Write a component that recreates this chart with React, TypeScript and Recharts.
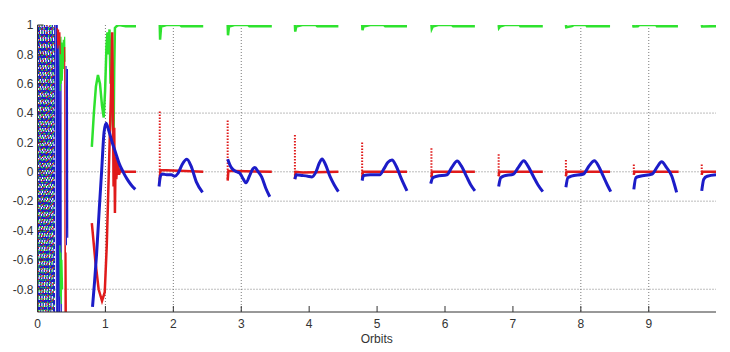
import { CartesianGrid, Line, LineChart, XAxis, YAxis } from 'recharts';

type Pt = [number, number];

const xTicks = [0, 1, 2, 3, 4, 5, 6, 7, 8, 9];
const yTicks = [1, 0.8, 0.6, 0.4, 0.2, 0, -0.2, -0.4, -0.6, -0.8];
const gridX = [1, 2, 3, 8, 9];
const gridY = [0.4, 0, -0.2, -0.8];

// start of run: dense scribble of all three components
const blueNoise: Pt[] = [
    [0, 1], [0.0075, -0.955], [0.015, 1], [0.0225, -0.94], [0.03, 0.99], [0.0375, -0.955], [0.045, 1],
    [0.0525, -0.93], [0.06, 0.98], [0.0675, -0.955], [0.075, 1], [0.0825, -0.95], [0.09, 0.97],
    [0.0975, -0.955], [0.105, 1], [0.1125, -0.94], [0.12, 0.99], [0.1275, -0.955], [0.135, 1],
    [0.1425, -0.92], [0.15, 0.99], [0.1575, -0.955], [0.165, 1], [0.1725, -0.95], [0.18, 0.98],
    [0.1875, -0.955], [0.195, 1], [0.2025, -0.94], [0.21, 0.99], [0.2175, -0.955], [0.225, 1],
    [0.2325, -0.95], [0.24, 0.97], [0.2475, -0.955], [0.255, 1],
];
const greenSpeckle: Pt[] = [
    [0.004, 1], [0.02, -0.955], [0.036, 1], [0.052, -0.955], [0.068, 1], [0.084, -0.955], [0.1, 1],
    [0.116, -0.955], [0.132, 1], [0.148, -0.955], [0.164, 1], [0.18, -0.955], [0.196, 1], [0.212, -0.955],
    [0.228, 1], [0.244, -0.955],
];
const redSpeckle: Pt[] = [
    [0.012, -0.955], [0.03, 1], [0.048, -0.955], [0.066, 1], [0.084, -0.955], [0.102, 1], [0.12, -0.955],
    [0.138, 1], [0.156, -0.955], [0.174, 1], [0.192, -0.955], [0.21, 1], [0.228, -0.955], [0.246, 1],
];
const whiteSpeckle: Pt[] = [
    [0.008, 1], [0.027, -0.955], [0.046, 1], [0.065, -0.955], [0.084, 1], [0.103, -0.955], [0.122, 1],
    [0.141, -0.955], [0.16, 1], [0.179, -0.955], [0.198, 1], [0.217, -0.955], [0.236, 1], [0.25, -0.955],
];
const blueTail: Pt[][] = [
    [[0.28, 1], [0.283, -0.955], [0.29, 1], [0.295, -0.955], [0.3, 0.95], [0.305, -0.955], [0.32, 0.9], [0.325, -0.955], [0.345, 0.7], [0.35, -0.955]],
    [[0.42, 0.72], [0.425, -0.5], [0.44, 0.7], [0.445, -0.45]],
];
const greenTail: Pt[][] = [
    [[0.33, 0.9], [0.335, 0.55], [0.345, 0.92], [0.35, 0.6], [0.36, 0.88], [0.365, 0.62], [0.38, 0.9], [0.385, 0.7], [0.4, 0.92], [0.405, 0.75]],
    [[0.33, -0.5], [0.335, -0.85], [0.345, -0.55], [0.35, -0.9], [0.36, -0.6], [0.37, -0.8]],
];
const redTail: Pt[][] = [
    [[0.29, 0.98], [0.3, 0.84], [0.31, 0.97], [0.32, 0.86], [0.33, 0.95], [0.335, 0.8]],
    [[0.4, 0.85], [0.405, -0.955], [0.41, -0.5], [0.415, -0.955], [0.42, -0.55], [0.425, -0.955]],
];

// one segment per orbit window
const greenOrbits: Pt[][] = [
    [[0.8, 0.17], [0.83, 0.4], [0.86, 0.58], [0.89, 0.66], [0.92, 0.6], [0.95, 0.45], [0.975, 0.37], [0.995, 0.55], [1.015, 0.85], [1.03, 0.95], [1.045, 0.8], [1.06, 0.97], [1.075, 0.6], [1.09, 0.9], [1.105, 0.35], [1.12, 0.24], [1.13, 0.7], [1.14, 0.98], [1.16, 0.99], [1.2, 1], [1.3, 0.992], [1.45, 0.992]],
    [[1.8, 1], [1.805, 0.9], [1.82, 0.99], [1.9, 1], [2.1, 1], [2.12, 0.992], [2.44, 0.992]],
    [[2.8, 1], [2.805, 0.93], [2.82, 0.99], [2.9, 1], [3.1, 1], [3.12, 0.992], [3.45, 0.992]],
    [[3.79, 1], [3.795, 0.955], [3.81, 0.99], [3.9, 1], [4.1, 1], [4.12, 0.992], [4.43, 0.992]],
    [[4.78, 1], [4.785, 0.965], [4.8, 0.99], [4.9, 1], [5.1, 1], [5.12, 0.992], [5.44, 0.992]],
    [[5.8, 1], [5.805, 0.975], [5.82, 0.99], [5.9, 1], [6.1, 1], [6.12, 0.992], [6.44, 0.992]],
    [[6.79, 1], [6.795, 0.98], [6.81, 0.99], [6.88, 1], [7.1, 1], [7.11, 0.992], [7.44, 0.992]],
    [[7.78, 1], [7.785, 0.985], [7.87, 0.992], [7.9, 1], [8.08, 1], [8.09, 0.992], [8.43, 0.992]],
    [[8.77, 1], [8.775, 0.99], [8.84, 0.992], [8.86, 1], [9.11, 1], [9.12, 0.992], [9.43, 0.992]],
    [[9.78, 1], [9.785, 0.99], [9.95, 0.992], [9.99, 0.992]],
];
const redOrbits: Pt[][] = [
    [[0.8, -0.35], [0.85, -0.6], [0.9, -0.8], [0.95, -0.88], [0.99, -0.82], [1.02, -0.5], [1.05, 0], [1.08, 0.5], [1.1, 0.95], [1.11, 0.5], [1.12, -0.1], [1.13, 0.3], [1.14, -0.28], [1.15, 0.1], [1.16, -0.05], [1.18, 0.08], [1.2, -0.02], [1.22, 0.01], [1.25, 0], [1.45, 0]],
    [[1.8, -0.06], [1.81, 0.01], [1.9, 0.01], [2.44, 0]],
    [[2.8, -0.06], [2.81, 0.005], [2.9, 0.005], [3.45, 0]],
    [[3.79, -0.05], [3.8, 0], [3.9, -0.005], [4.43, 0]],
    [[4.78, -0.05], [4.79, 0], [4.9, 0], [5.44, 0]],
    [[5.8, -0.04], [5.81, 0], [5.9, 0], [6.44, 0]],
    [[6.79, -0.03], [6.8, 0], [6.9, 0], [7.44, 0]],
    [[7.78, -0.03], [7.79, 0], [7.9, 0], [8.43, 0]],
    [[8.78, -0.02], [8.79, 0], [8.9, 0], [9.44, 0]],
    [[9.78, -0.02], [9.79, 0], [9.9, 0], [9.99, 0]],
];
// the fast jump at each orbit start, sampled sparsely
const redSpikes: Pt[][] = [
    [[1.8, 0.41], [1.8, -0.06]],
    [[2.8, 0.35], [2.8, -0.06]],
    [[3.79, 0.25], [3.79, -0.05]],
    [[4.78, 0.2], [4.78, -0.05]],
    [[5.8, 0.16], [5.8, -0.04]],
    [[6.79, 0.12], [6.79, -0.03]],
    [[7.78, 0.08], [7.78, -0.03]],
    [[8.78, 0.05], [8.78, -0.02]],
    [[9.78, 0.05], [9.78, -0.02]],
];
const blueOrbits: Pt[][] = [
    [[0.81, -0.92], [0.84, -0.75], [0.87, -0.56], [0.91, -0.25], [0.945, 0.01], [0.98, 0.27], [1.01, 0.33], [1.05, 0.28], [1.1, 0.2], [1.15, 0.13], [1.2, 0.06], [1.26, 0.0], [1.32, -0.05], [1.38, -0.09], [1.44, -0.12]],
    [[1.79, -0.1], [1.81, -0.03], [1.84, -0.015], [1.9, -0.02], [1.97, -0.02], [2.02, -0.03], [2.07, -0.01], [2.13, 0.05], [2.2, 0.085], [2.26, 0.04], [2.34, -0.07], [2.43, -0.14]],
    [[2.8, 0.085], [2.84, 0.04], [2.88, 0.015], [2.93, 0.0], [2.98, -0.01], [3.03, -0.05], [3.07, -0.075], [3.12, -0.03], [3.17, 0.02], [3.2, 0.03], [3.25, 0.0], [3.3, -0.035], [3.36, -0.11], [3.42, -0.17]],
    [[3.79, -0.05], [3.81, -0.02], [3.9, -0.025], [3.98, -0.03], [4.04, -0.035], [4.1, 0.0], [4.15, 0.06], [4.19, 0.087], [4.24, 0.05], [4.31, -0.035], [4.37, -0.09], [4.43, -0.135]],
    [[4.78, -0.06], [4.8, -0.025], [4.9, -0.02], [5.04, -0.02], [5.1, 0.02], [5.16, 0.065], [5.22, 0.08], [5.28, 0.04], [5.36, -0.05], [5.44, -0.13]],
    [[5.79, -0.08], [5.82, -0.04], [5.88, -0.03], [6.03, -0.02], [6.1, 0.03], [6.18, 0.073], [6.24, 0.04], [6.32, -0.035], [6.38, -0.09], [6.44, -0.13]],
    [[6.79, -0.1], [6.82, -0.04], [6.86, -0.03], [7.01, -0.015], [7.08, 0.03], [7.16, 0.075], [7.22, 0.04], [7.3, -0.03], [7.37, -0.09], [7.44, -0.135]],
    [[7.78, -0.105], [7.81, -0.04], [7.86, -0.03], [8.04, -0.015], [8.12, 0.04], [8.2, 0.075], [8.26, 0.04], [8.33, -0.03], [8.39, -0.09], [8.44, -0.135]],
    [[8.78, -0.12], [8.81, -0.04], [8.87, -0.03], [9.05, -0.015], [9.12, 0.03], [9.19, 0.068], [9.26, 0.03], [9.34, -0.03], [9.38, -0.09], [9.41, -0.14]],
    [[9.78, -0.13], [9.81, -0.05], [9.86, -0.03], [9.99, -0.02]],
];

const BLUE = '#1c1cc8';
const RED = '#e01b1b';
const GREEN = '#2ee22e';
const AXIS = '#333';
const X_DOMAIN: [number, number] = [0, 9.99];
const Y_DOMAIN: [number, number] = [-0.955, 1];

// segments joined with a null point so the line breaks between orbits
function toRows(segments: Pt[][]) {
    const rows: { x: number; y: number | null }[] = [];
    segments.forEach((seg, i) => {
        if (i > 0) rows.push({ x: seg[0][0], y: null });
        seg.forEach(([x, y]) => rows.push({ x, y }));
    });
    return rows;
}

const seriesProps = { dataKey: 'y', dot: false, activeDot: false, isAnimationActive: false } as const;

export default function App() {
    return (
        <div style={{ position: 'absolute', left: 0, top: 0, width: 730, height: 352, background: '#fff', fontFamily: '"Liberation Sans", Arial, sans-serif' }}>
            <LineChart width={730} height={352} margin={{ top: 25, right: 14, bottom: 0, left: 0 }}>
                <CartesianGrid horizontalValues={gridY} verticalValues={gridX} stroke="#7a7a7a" strokeDasharray="1 2" />
                <XAxis
                    dataKey="x"
                    type="number"
                    domain={X_DOMAIN}
                    ticks={xTicks}
                    allowDataOverflow
                    height={40}
                    tickSize={-6}
                    tickMargin={13}
                    stroke={AXIS}
                    tick={{ fill: AXIS, fontSize: 12 }}
                    label={{ value: 'Orbits', position: 'insideBottom', offset: 9, fill: AXIS, fontSize: 12 }}
                />
                <XAxis
                    xAxisId="top"
                    orientation="top"
                    type="number"
                    domain={X_DOMAIN}
                    ticks={xTicks}
                    allowDataOverflow
                    height={0}
                    tickSize={-6}
                    tick={false}
                    stroke={AXIS}
                    label={{ value: 'SVB', position: 'top', offset: 7, fill: '#000', fontSize: 11, fontWeight: 'bold' }}
                />
                <YAxis
                    type="number"
                    domain={Y_DOMAIN}
                    ticks={yTicks}
                    allowDataOverflow
                    width={37.5}
                    tickSize={-6}
                    tickMargin={10}
                    stroke={AXIS}
                    tick={{ fill: AXIS, fontSize: 12 }}
                />
                <YAxis
                    yAxisId="right"
                    orientation="right"
                    type="number"
                    domain={Y_DOMAIN}
                    ticks={yTicks}
                    allowDataOverflow
                    width={0}
                    tickSize={-6}
                    tick={false}
                    stroke={AXIS}
                />
                <Line {...seriesProps} data={toRows([blueNoise])} stroke={BLUE} strokeWidth={1.6} />
                <Line {...seriesProps} data={toRows([whiteSpeckle])} stroke="#fff" strokeWidth={1.2} strokeDasharray="2 5" />
                <Line {...seriesProps} data={toRows([greenSpeckle])} stroke={GREEN} strokeWidth={1.2} strokeDasharray="1.5 6" />
                <Line {...seriesProps} data={toRows([redSpeckle])} stroke={RED} strokeWidth={1.2} strokeDasharray="1 7" />
                <Line {...seriesProps} data={toRows(blueTail)} stroke={BLUE} strokeWidth={1.2} />
                <Line {...seriesProps} data={toRows(greenTail)} stroke={GREEN} strokeWidth={1.2} />
                <Line {...seriesProps} data={toRows(redTail)} stroke={RED} strokeWidth={1.2} />
                <Line {...seriesProps} data={toRows(greenOrbits)} stroke={GREEN} strokeWidth={2.5} type="linear" />
                <Line {...seriesProps} data={toRows(redOrbits)} stroke={RED} strokeWidth={2.5} type="linear" />
                <Line {...seriesProps} data={toRows(redSpikes)} stroke={RED} strokeWidth={2} strokeDasharray="1.5 1.5" type="linear" />
                <Line {...seriesProps} data={toRows(blueOrbits)} stroke={BLUE} strokeWidth={3} type="monotone" />
            </LineChart>
        </div>
    );
}
